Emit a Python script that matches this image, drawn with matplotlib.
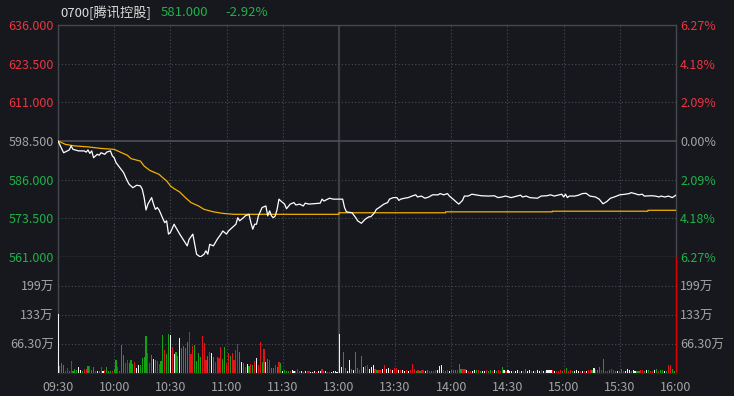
import numpy as np
import matplotlib
matplotlib.use('Agg')
import matplotlib.pyplot as plt

plt.rcParams['font.family'] = ['Noto Sans CJK SC', 'DejaVu Sans']

# ---------------- data ----------------
prev_close = 598.5
last_price = "581.000"
change_pct = "-2.92%"
title = "0700[腾讯控股]"

time_ticks = [0, 30, 60, 90, 120, 150, 180, 210, 240, 270, 300, 330]
time_labels = ["09:30", "10:00", "10:30", "11:00", "11:30", "13:00",
               "13:30", "14:00", "14:30", "15:00", "15:30", "16:00"]

price_ticks = [561.0, 573.5, 586.0, 598.5, 611.0, 623.5, 636.0]
price_labels = ["561.000", "573.500", "586.000", "598.500", "611.000", "623.500", "636.000"]
pct_labels = ["6.27%", "4.18%", "2.09%", "0.00%", "2.09%", "4.18%", "6.27%"]

vol_ticks = [66.3, 132.6, 198.9]
vol_labels = ["66.30万", "133万", "199万"]
vol_max = 265.2

price_minutes = [0, 3, 5, 6, 7, 8, 11, 14, 15, 16, 17, 18, 19, 21, 22, 23, 25, 26, 28, 29,
                 30, 31, 33, 35, 37, 38, 40, 42, 44, 45, 46, 47, 48, 50, 51, 52, 53, 54, 55, 56,
                 57, 58, 59, 60, 62, 63, 65, 67, 69, 70, 72, 73, 74, 76, 78, 79, 80, 81, 83, 85,
                 87, 88, 90, 91, 93, 95, 96, 97, 99, 100, 102, 103, 104, 105, 106, 107, 109, 111, 112, 113,
                 114, 115, 116, 117, 118, 119, 121, 122, 124, 126, 127, 129, 131, 132, 134, 140, 141, 142, 144, 145,
                 147, 150, 152, 153, 154, 157, 159, 160, 162, 164, 166, 167, 169, 170, 172, 174, 176, 177, 179, 181,
                 182, 183, 185, 187, 189, 191, 192, 194, 196, 198, 200, 203, 204, 206, 208, 209, 211, 213, 214, 216,
                 217, 219, 221, 223, 226, 230, 233, 235, 237, 239, 242, 245, 247, 248, 250, 252, 256, 258, 261, 263,
                 265, 267, 269, 270, 271, 272, 273, 276, 278, 280, 282, 284, 287, 289, 291, 293, 295, 297, 300, 303,
                 305, 306, 308, 310, 312, 313, 317, 319, 321, 322, 324, 326, 328, 330]
prices = [598.5, 594.7, 595.3, 595.6, 596.9, 595.8, 595.3, 595.3, 594.9, 595.6, 594.5, 595.3, 593.1, 594.2, 593.9, 594.7, 594.2, 594.9, 595.3, 593.7,
          593.1, 591.5, 589.9, 588.3, 585.6, 584.5, 583.4, 584.2, 584.0, 582.9, 580.2, 576.2, 578.1, 580.2, 578.1, 576.4, 577.0, 576.2, 574.8, 573.4,
          572.1, 572.7, 568.4, 568.9, 571.6, 570.5, 568.4, 566.5, 564.6, 566.7, 568.4, 565.1, 561.9, 561.0, 561.9, 563.0, 561.9, 565.1, 564.6, 566.7,
          568.4, 569.4, 568.4, 569.4, 570.5, 571.6, 573.7, 572.7, 573.7, 574.3, 574.8, 572.1, 570.0, 571.6, 571.6, 574.3, 577.0, 577.5, 574.3, 575.9,
          574.3, 573.7, 574.3, 576.4, 579.7, 579.1, 578.1, 576.6, 578.1, 578.6, 577.8, 578.1, 577.5, 578.4, 578.1, 578.4, 579.7, 579.1, 579.7, 580.0,
          579.7, 579.7, 579.7, 577.0, 575.6, 575.3, 573.7, 572.7, 571.9, 573.2, 574.0, 574.0, 575.3, 576.4, 577.2, 578.1, 578.6, 579.7, 580.2, 580.2,
          579.3, 579.7, 580.0, 580.2, 580.7, 581.1, 580.4, 580.7, 580.0, 580.4, 581.1, 581.1, 581.5, 581.1, 581.5, 580.7, 579.7, 578.6, 578.1, 579.3,
          580.7, 580.7, 581.3, 581.1, 580.8, 580.7, 580.8, 580.2, 580.4, 580.7, 580.2, 580.7, 581.0, 580.4, 580.7, 580.2, 580.0, 580.7, 580.8, 581.1,
          580.7, 581.0, 581.3, 580.4, 581.3, 580.2, 580.7, 580.7, 581.0, 581.5, 581.6, 580.7, 580.4, 579.7, 578.2, 578.9, 580.0, 580.4, 581.1, 581.3,
          581.5, 581.8, 581.5, 581.1, 581.3, 580.7, 580.8, 580.7, 580.4, 580.7, 580.4, 580.7, 580.2, 581.0]

avg_minutes = [0, 4, 9, 16, 23, 30, 34, 37, 39, 44, 46, 49, 54, 56, 58, 60, 62, 65, 68, 71,
               75, 78, 83, 88, 94, 150, 150, 207, 207, 264, 264, 315, 315, 330]
avg_prices = [598.5, 597.4, 596.9, 596.6, 596.1, 595.8, 594.7, 593.9, 592.8, 592.0, 590.4, 589.0, 587.7, 586.6, 585.6, 584.0, 583.1, 582.0, 580.2, 578.6,
              577.5, 576.4, 575.6, 575.1, 574.8, 574.8, 575.3, 575.3, 575.6, 575.6, 575.8, 575.8, 576.1, 576.1]

# volume in 万, morning session (one bar per minute) and afternoon session
vol_am = [135.6, 16.8, 23.6, 19, 5, 11, 5, 28, 4, 10,
          8, 14.5, 7.6, 4, 10, 10, 17, 17, 6, 14.5,
          5, 5, 4, 14.5, 5, 7.6, 14.5, 4, 4, 5,
          10, 30, 14.5, 5, 65, 42, 23, 30, 23.6, 30,
          21, 26, 12, 19, 19, 35, 37, 85, 46, 23.6,
          42, 33, 30, 28, 21, 28, 88, 53, 44, 90,
          88, 60, 44, 49, 40, 81, 58, 62, 58, 72,
          94, 44, 62, 65, 28, 46, 37, 85, 69, 30,
          40, 49, 46, 37, 26, 37, 35, 60, 33, 60,
          23.6, 46, 40, 46, 30, 53, 67, 49, 26, 23.6,
          14.5, 21, 17, 21, 19, 28, 35, 19, 72, 26,
          56, 26, 33, 30, 12, 12, 19, 14.5, 26, 23.6,
          5, 7.6, 4, 5, 5, 8, 5, 4, 9, 4,
          5, 3, 5, 4, 4, 3, 3, 5, 3, 5,
          5, 9, 4, 5, 3, 2.5, 3, 5, 5, 3]
dir_am = ("WGGGRRGRGG" "GWWGRRGRGG" "RWGRWRGGGR" "GGRRGGRRGG" "GRWWGGGGRR"
          "GWGRRGGRGG" "WRWGGWGGGG" "RRRGGGGRRR" "GRWGRRRRGG" "RRGRRRRGWG"
          "RWGRGRWRRG" "RWGRGGRGRG" "WGGGRWWGRG" "WGWRRWWWRW" "WRGWGRWWWW")

vol_pm = [90, 14, 47, 11, 5, 29, 9, 7, 49, 11,
          7, 40, 14, 15, 18, 10, 14, 18, 10, 7.6,
          7.6, 7.6, 10, 19, 9, 12, 9, 7.6, 12, 12,
          7.6, 6, 7.6, 5, 6, 5, 7.6, 21, 9, 5,
          6, 5, 6, 6, 5, 7, 5, 5, 5, 7,
          7.6, 15, 18, 8, 5, 6, 5, 7.6, 7.6, 7.6,
          7, 21, 10, 9, 9, 6, 5, 5, 5, 6,
          8, 7, 5, 5, 5, 6, 5, 7.6, 5, 6,
          5, 6, 5, 14.5, 7, 5, 7, 5, 5, 5,
          5, 7.6, 5, 5, 5, 10, 5, 7.6, 5, 5,
          5, 8, 5, 7, 5, 5, 7, 7, 8, 6,
          5, 5, 5, 7, 5, 6, 11, 5, 7.6, 5,
          5, 6, 5, 5, 5, 5, 5, 6, 6, 6,
          11, 7.6, 7.6, 14, 6, 33, 5, 5, 7.6, 10,
          7.6, 5, 5, 5, 10, 5, 5, 10, 7, 5,
          7, 5, 5, 5, 7.6, 7, 5, 7.6, 8, 5,
          5, 7.6, 10, 5, 7.6, 7, 5, 5, 18, 19,
          10, 5]
dir_pm = ("WWGGWWGWGG" "RGWRRWWWRG" "RRWRWWRWRR" "WRWWRWRRRG" "RGRRWGRGRR"
          "WWWRGRWGGG" "RGGRRWRRWW" "GRGWWRGGRW" "GRRGWRWWWR" "WWRWRGWWRW"
          "RWWRWRWWWR" "WRRRGRGRRG" "WWWRWRWRRG" "WRGGRGRRGR" "RGWGGRWWWG"
          "WWGGRRGWGR" "RWGRGGWGRR" "GG")

# ---------------- style ----------------
BG = '#16181d'
GRID = '#4a4d54'
BORDER = '#45484f'
TXT = '#a4a4a4'
RED = '#ec3440'
GREEN = '#1fb24a'
BAR_C = {'R': '#e0141a', 'G': '#12a312', 'W': '#f2f2f2'}
YELLOW = '#f2b000'

W, H = 734, 396
fig = plt.figure(figsize=(W / 100, H / 100), dpi=100, facecolor=BG)
L, R = 58 / W, 676 / W
axp = fig.add_axes([L, 1 - 257 / H, R - L, (257 - 25) / H], facecolor=BG)
axv = fig.add_axes([L, 1 - 373 / H, R - L, (373 - 257) / H], facecolor=BG)

DOT = (0, (1, 2))
for ax in (axp, axv):
    ax.set_xlim(0, 330)
    for m in time_ticks[1:-1]:
        if m == 150:
            ax.axvline(m, color='#3d3f45', lw=1.6, zorder=1)
        else:
            ax.axvline(m, color=GRID, lw=0.8, ls=DOT, zorder=1)
    for s in ax.spines.values():
        s.set_color(BORDER)
        s.set_linewidth(1.0)

# price panel
axp.set_ylim(price_ticks[0], price_ticks[-1])
for p in price_ticks[1:-1]:
    if p == prev_close:
        axp.axhline(p, color='#4d5056', lw=1.2, zorder=1)
    else:
        axp.axhline(p, color=GRID, lw=0.8, ls=DOT, zorder=1)
axp.plot(avg_minutes, avg_prices, color=YELLOW, lw=0.9, zorder=3)
axp.plot(price_minutes, prices, color='white', lw=0.9, zorder=4)
axp.set_xticks([])
axp.set_yticks(price_ticks)
axp.set_yticklabels(price_labels)
axp.tick_params(axis='y', length=0, pad=3, labelsize=9)
for lab, p in zip(axp.get_yticklabels(), price_ticks):
    lab.set_color(TXT if p == prev_close else (RED if p > prev_close else GREEN))
axp2 = axp.twinx()
axp2.set_ylim(axp.get_ylim())
axp2.set_yticks(price_ticks)
axp2.set_yticklabels(pct_labels)
axp2.tick_params(axis='y', length=0, pad=3, labelsize=9)
for lab, p in zip(axp2.get_yticklabels(), price_ticks):
    lab.set_color(TXT if p == prev_close else (RED if p > prev_close else GREEN))
for s in axp2.spines.values():
    s.set_visible(False)

# volume panel
x_am = np.arange(len(vol_am))
x_pm = np.linspace(150.5, 329, len(vol_pm))
axv.bar(x_am, vol_am, width=0.6, color=[BAR_C[c] for c in dir_am],
        linewidth=0, antialiased=False, zorder=3)
axv.bar(x_pm, vol_pm, width=0.6, color=[BAR_C[c] for c in dir_pm],
        linewidth=0, antialiased=False, zorder=3)
axv.set_ylim(0, vol_max)
for v in vol_ticks:
    axv.axhline(v, color=GRID, lw=0.8, ls=DOT, zorder=1)
axv.spines['top'].set_visible(False)
axv.spines['bottom'].set_color('#24272d')
axv.spines['right'].set_color('#e00000')
axv.set_yticks(vol_ticks)
axv.set_yticklabels(vol_labels)
axv.tick_params(axis='y', length=0, pad=3, labelsize=9, labelcolor=TXT)
axv.set_xticks(time_ticks)
axv.set_xticklabels(time_labels)
axv.tick_params(axis='x', length=0, pad=6, labelsize=9, labelcolor=TXT)
axv2 = axv.twinx()
axv2.set_ylim(0, vol_max)
axv2.set_yticks(vol_ticks)
axv2.set_yticklabels(vol_labels)
axv2.tick_params(axis='y', length=0, pad=3, labelsize=9, labelcolor=TXT)
for s in axv2.spines.values():
    s.set_visible(False)

# header
fig.text(60 / W, 1 - 13 / H, title, color='#dcdcdc', fontsize=9.5, va='center', ha='left')
fig.text(161 / W, 1 - 13 / H, last_price, color=GREEN, fontsize=9.5, va='center', ha='left')
fig.text(225 / W, 1 - 13 / H, change_pct, color=GREEN, fontsize=9.5, va='center', ha='left')

fig.savefig('out.png', dpi=100, facecolor=BG)
